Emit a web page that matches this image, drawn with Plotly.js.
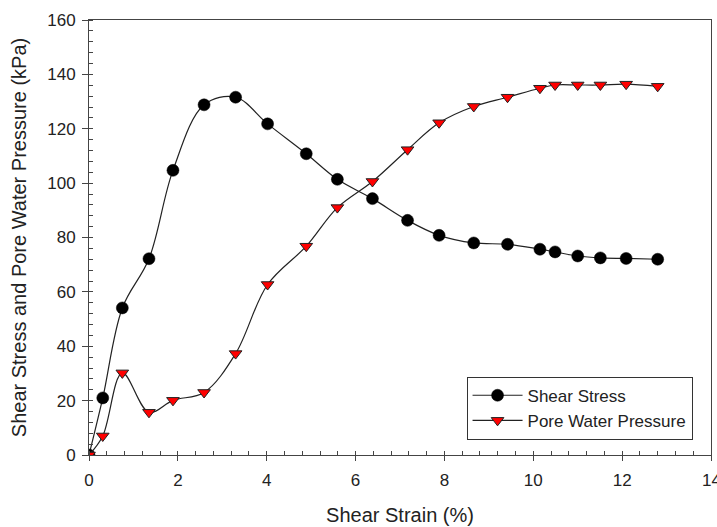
<!DOCTYPE html>
<html>
<head>
<meta charset="utf-8">
<script src="https://cdn.plot.ly/plotly-3.0.1.min.js"></script>
<style>html,body{margin:0;padding:0;background:#fff}#chart{width:717px;height:527px}</style>
</head>
<body>
<div id="chart"></div>
<script>
var strain = [0, 0.31, 0.75, 1.35, 1.89, 2.59, 3.30, 4.02, 4.89, 5.59, 6.38, 7.17, 7.88, 8.66, 9.42, 10.15, 10.49, 11.0, 11.51, 12.09, 12.8];
var shearStress = [0, 21.0, 54.1, 72.2, 104.7, 128.8, 131.6, 121.8, 110.8, 101.4, 94.3, 86.3, 80.8, 78.0, 77.5, 75.7, 74.7, 73.2, 72.5, 72.3, 72.0];
var poreWaterPressure = [0, 7.0, 30.2, 15.7, 20.1, 23.0, 37.3, 62.7, 76.8, 91.0, 100.6, 112.3, 122.2, 128.2, 131.6, 134.9, 136.1, 136.1, 136.1, 136.4, 135.6];
var seriesNames = ["Shear Stress", "Pore Water Pressure"];
var lastXTick = 14;

var traces = [
  {
    x: strain, y: shearStress, name: seriesNames[0], type: 'scatter', mode: 'lines+markers',
    line: {color: '#222', width: 1.2, shape: 'spline', smoothing: 1},
    marker: {symbol: 'circle', size: 12, color: '#000', line: {color: '#000', width: 0.5}}
  },
  {
    x: strain, y: poreWaterPressure, name: seriesNames[1], type: 'scatter', mode: 'lines+markers',
    line: {color: '#222', width: 1.2, shape: 'spline', smoothing: 1},
    marker: {symbol: 'triangle-down', size: 11, color: '#ff0000', line: {color: '#222', width: 1}}
  }
];

var FONT = 'Liberation Sans, Arial, sans-serif';
var axisCommon = {
  showgrid: false, zeroline: false, showline: true, linecolor: '#444', linewidth: 1,
  ticks: 'outside', ticklen: 6, tickcolor: '#444', tickwidth: 1,
  tickfont: {family: FONT, size: 17, color: '#222'},
  mirror: true
};

var layout = {
  width: 717, height: 527,
  margin: {l: 89, r: 5.5, t: 19.5, b: 72},
  paper_bgcolor: '#fff', plot_bgcolor: '#fff',
  font: {family: FONT, color: '#222'},
  showlegend: true,
  legend: {
    x: 0.607, y: 0.18, xanchor: 'left', yanchor: 'top',
    bgcolor: '#fff', bordercolor: '#333', borderwidth: 1,
    font: {family: FONT, size: 17, color: '#222'},
    tracegroupgap: 0, itemwidth: 50
  },
  xaxis: Object.assign({}, axisCommon, {
    range: [0, 14], dtick: 2, tick0: 0, ticklen: 5, ticklabelstandoff: 5,
    minor: {dtick: 0.4, ticks: 'inside', ticklen: 4, tickcolor: '#444'},
    title: {text: 'Shear Strain (%)', font: {family: FONT, size: 20, color: '#222'}, standoff: 18}
  }),
  yaxis: Object.assign({}, axisCommon, {
    range: [0, 160], dtick: 20, tick0: 0, ticklabelstandoff: 3,
    minor: {dtick: 4, ticks: 'inside', ticklen: 4, tickcolor: '#444'},
    title: {text: 'Shear Stress and Pore Water Pressure (kPa)', font: {family: FONT, size: 20, color: '#222'}, standoff: 15}
  }),
  annotations: [{
    x: lastXTick, xref: 'x', y: 0, yref: 'paper', yanchor: 'top', xanchor: 'center',
    yshift: -14, text: String(lastXTick), showarrow: false,
    font: {family: FONT, size: 17, color: '#222'}
  }]
};

Plotly.newPlot('chart', traces, layout, {displayModeBar: false, staticPlot: true});
</script>
</body>
</html>
